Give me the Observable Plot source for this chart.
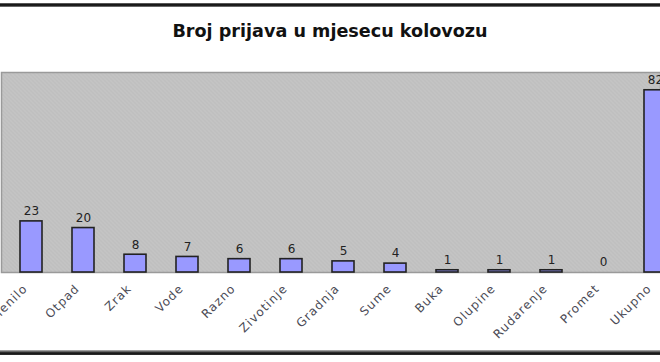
<!DOCTYPE html>
<html>
<head>
<meta charset="utf-8">
<script src="https://cdn.jsdelivr.net/npm/d3@7"></script>
<script src="https://cdn.jsdelivr.net/npm/@observablehq/plot@0.6"></script>
<style>
  html, body { margin: 0; padding: 0; background: #fff; }
  #wrap { position: relative; width: 660px; height: 362px; overflow: hidden; background: #fff; }
  #topline { position: absolute; left: 0; top: 3px; width: 660px; height: 4px;
    background: linear-gradient(#777, #111 40%, #222 70%, #999); }
  #botline { position: absolute; left: 0; top: 350px; width: 660px; height: 5px;
    background: linear-gradient(#bbb, #666 30%, #111 60%, #333); }
  #title { position: absolute; left: 0; top: 20px; width: 660px; text-align: center;
    font: bold 17.6px "DejaVu Sans", sans-serif; line-height: 22px; color: #111; }
  #chart { position: absolute; left: 0; top: 0; }
</style>
</head>
<body>
<div id="wrap">
  <div id="chart"></div>
  <div id="topline"></div>
  <div id="title">Broj prijava u mjesecu kolovozu</div>
  <div id="botline"></div>
</div>
<script>
const categories = ["Zelenilo", "Otpad", "Zrak", "Vode", "Razno", "Zivotinje", "Gradnja", "Sume", "Buka", "Olupine", "Rudarenje", "Promet", "Ukupno"];
const counts = [23, 20, 8, 7, 6, 6, 5, 4, 1, 1, 1, 0, 82];

const data = categories.map((c, i) => ({cat: c, val: counts[i]}));

const plot = Plot.plot({
  width: 660,
  height: 362,
  marginTop: 72,
  marginBottom: 90,
  marginLeft: 1,
  marginRight: 0,
  style: {fontFamily: "DejaVu Sans, sans-serif", fontSize: "12px", color: "#4a4a55", background: "transparent", overflow: "hidden"},
  x: {
    type: "band",
    domain: categories,
    range: [1.25, 683.75],
    paddingInner: 0.58,
    paddingOuter: 0.29,
    axis: null
  },
  y: {domain: [0, 90], axis: null},
  marks: [
    Plot.frame({fill: "url(#bgpat)", stroke: "#9a9a9a", strokeWidth: 1.5}),
    Plot.barY(data, {filter: d => d.val > 0, x: "cat", y: "val", fill: "#9999ff", stroke: "#222", strokeWidth: 1.6}),
    Plot.text(data, {x: "cat", y: "val", text: d => String(d.val), dy: -10, fontSize: 12, fill: "#222"}),
    Plot.axisX({tickRotate: -45, tickSize: 0, tickPadding: 14, dx: -6, label: null, fontSize: 12})
  ]
});

// subtle texture for the plot background
const ns = "http://www.w3.org/2000/svg";
const defs = document.createElementNS(ns, "defs");
defs.innerHTML = `<pattern id="bgpat" width="4" height="4" patternUnits="userSpaceOnUse">
  <rect width="4" height="4" fill="#c2c2c2"/>
  <rect x="0" y="0" width="1" height="1" fill="#b6b6b6"/>
  <rect x="2" y="2" width="1" height="1" fill="#b6b6b6"/>
  <rect x="1" y="3" width="1" height="1" fill="#cbcbcb"/>
  <rect x="3" y="1" width="1" height="1" fill="#cbcbcb"/>
</pattern>`;
plot.insertBefore(defs, plot.firstChild);
plot.querySelectorAll('g[aria-label="x-axis tick label"] text').forEach(t => t.setAttribute("letter-spacing", "1.1"));

document.getElementById("chart").appendChild(plot);
</script>
</body>
</html>
